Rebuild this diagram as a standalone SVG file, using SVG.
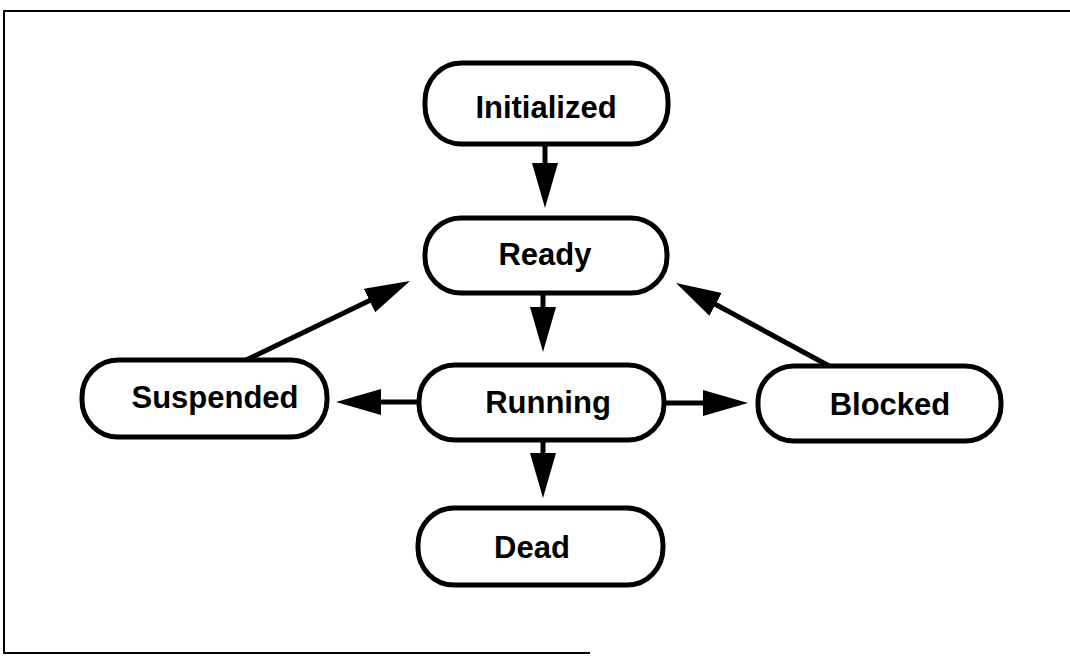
<svg xmlns="http://www.w3.org/2000/svg" width="1070" height="656" viewBox="0 0 1070 656">
<style>
.box{fill:#fff;stroke:#000;stroke-width:5}
.lbl{font-family:"Liberation Sans",Arial,sans-serif;font-weight:bold;font-size:31px;text-anchor:middle;fill:#000}
.edge{stroke:#000;stroke-width:5;fill:none;marker-end:url(#ah)}
.frame{fill:none;stroke:#000;stroke-width:2}
</style>
<defs>
<marker id="ah" markerUnits="userSpaceOnUse" markerWidth="46" markerHeight="28" refX="25" refY="13" orient="auto">
<path d="M0,0 L45,13 L0,26 Z" fill="#000"/>
</marker>
</defs>
<path class="frame" d="M1070,11 H4 V653 H590"/>
<g id="connectors">
<line class="edge" x1="545" y1="144" x2="545" y2="188"/>
<line class="edge" x1="543" y1="293" x2="543" y2="332"/>
<line class="edge" x1="543" y1="440" x2="543" y2="478"/>
<line class="edge" x1="419" y1="402" x2="356" y2="402"/>
<line class="edge" x1="664" y1="403" x2="728" y2="403"/>
<line class="edge" x1="242" y1="362" x2="392" y2="289.7"/>
<line class="edge" x1="831" y1="367" x2="693.6" y2="292.5"/>
</g>
<g id="initialized"><rect class="box" x="425" y="63" width="243" height="81" rx="36" ry="38"/><text class="lbl" x="546" y="118">Initialized</text></g>
<g id="ready"><rect class="box" x="425" y="218" width="242" height="75" rx="36" ry="36"/><text class="lbl" x="545" y="265">Ready</text></g>
<g id="running"><rect class="box" x="419" y="365" width="245" height="75" rx="36" ry="36"/><text class="lbl" x="548" y="413">Running</text></g>
<g id="dead"><rect class="box" x="418" y="508" width="245" height="77" rx="36" ry="37"/><text class="lbl" x="532" y="558">Dead</text></g>
<g id="suspended"><rect class="box" x="82" y="360" width="245" height="77" rx="36" ry="37"/><text class="lbl" x="215" y="408">Suspended</text></g>
<g id="blocked"><rect class="box" x="758" y="366" width="243" height="75" rx="36" ry="36"/><text class="lbl" x="890" y="415">Blocked</text></g>
</svg>
